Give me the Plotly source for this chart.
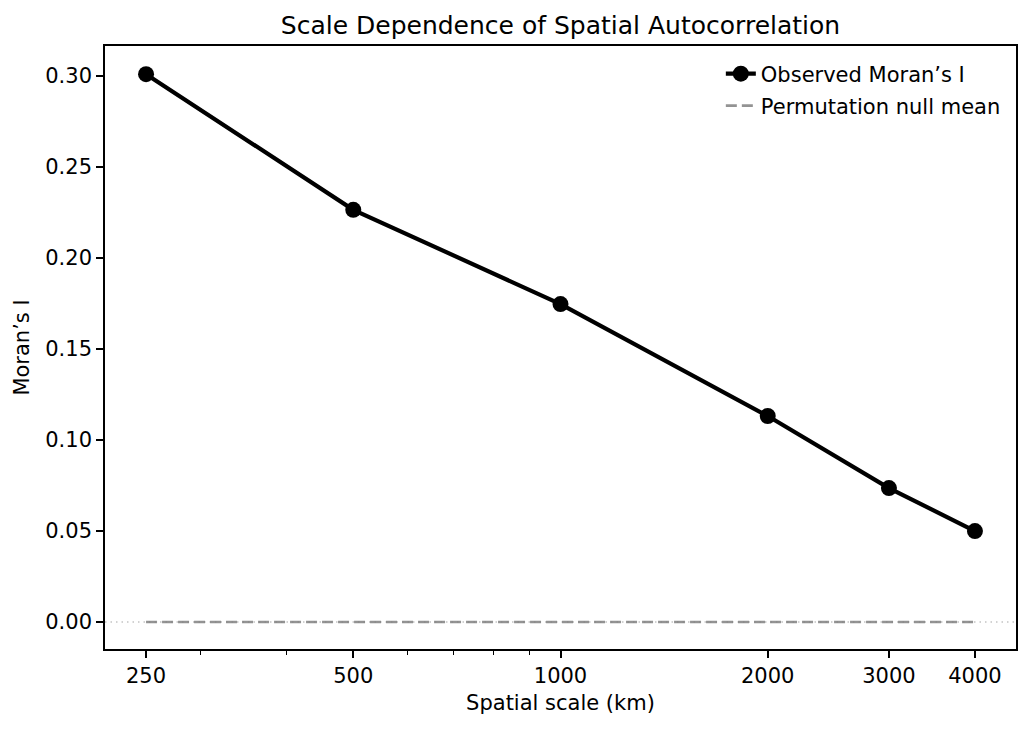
import plotly.graph_objects as go

scales_km = [250, 500, 1000, 2000, 3000, 4000]
observed_I = [0.301, 0.2265, 0.1747, 0.1132, 0.0736, 0.0500]
null_mean = [0.0, 0.0, 0.0, 0.0, 0.0, 0.0]
tick_vals = [250, 500, 1000, 2000, 3000, 4000]
tick_text = ["250", "500", "1000", "2000", "3000", "4000"]
minor_vals = [300, 400, 600, 700, 800, 900]
y_ticks = [0.00, 0.05, 0.10, 0.15, 0.20, 0.25, 0.30]

FONT = "DejaVu Sans"
W, H = 1022, 721  # page body has an 8px margin

fig = go.Figure()

fig.add_hline(y=0, line=dict(color="#c4c4c4", width=1.5, dash="1.5px,4px"), layer="below")

fig.add_trace(go.Scatter(
    x=scales_km, y=observed_I, mode="lines+markers",
    name="Observed Moran\u2019s I",
    line=dict(color="black", width=4.2),
    marker=dict(color="black", size=16),
    legend="legend",
))
fig.add_trace(go.Scatter(
    x=scales_km, y=null_mean, mode="lines",
    name="Permutation null mean",
    line=dict(color="rgba(128,128,128,0.85)", width=2.6, dash="11px,5px"),
    legend="legend2",
))

leg_common = dict(xanchor="left", yanchor="middle",
                  bgcolor="rgba(0,0,0,0)", borderwidth=0,
                  font=dict(size=21, family=FONT, color="black"))

fig.update_layout(
    width=W, height=H,
    margin=dict(l=97, r=14, t=38, b=80),
    paper_bgcolor="white", plot_bgcolor="white",
    font=dict(family=FONT, size=21, color="black"),
    title=dict(text="Scale Dependence of Spatial Autocorrelation",
               x=0.5, xref="paper", xanchor="center",
               y=1 - 17 / H, yanchor="middle",
               font=dict(size=25, family=FONT, color="black")),
    showlegend=True,
    legend=dict(x=0.676, y=(649 - 74) / 603, **leg_common),
    legend2=dict(x=0.676, y=(649 - 106) / 603, **leg_common),
)

fig.update_xaxes(
    type="log",
    range=[2.3383, 3.6617],
    tickmode="array", tickvals=tick_vals, ticktext=tick_text,
    ticks="outside", ticklen=7, tickwidth=1.6, tickcolor="black",
    minor=dict(tickmode="array", tickvals=minor_vals, ticks="outside",
               ticklen=4, tickwidth=1.2, tickcolor="black", showgrid=False),
    showline=True, linecolor="black", linewidth=1.6, mirror=True,
    showgrid=False, zeroline=False,
    title=dict(text="Spatial scale (km)", standoff=8,
               font=dict(size=21, family=FONT)),
)
fig.update_yaxes(
    range=[-0.0148, 0.3165],
    tickmode="array", tickvals=y_ticks,
    ticktext=[f"{v:.2f}" for v in y_ticks],
    ticks="outside", ticklen=7, tickwidth=1.6, tickcolor="black",
    showline=True, linecolor="black", linewidth=1.6, mirror=True,
    showgrid=False, zeroline=False,
    title=dict(text="Moran\u2019s I", standoff=10,
               font=dict(size=21, family=FONT)),
)

fig.write_html("out.html")
